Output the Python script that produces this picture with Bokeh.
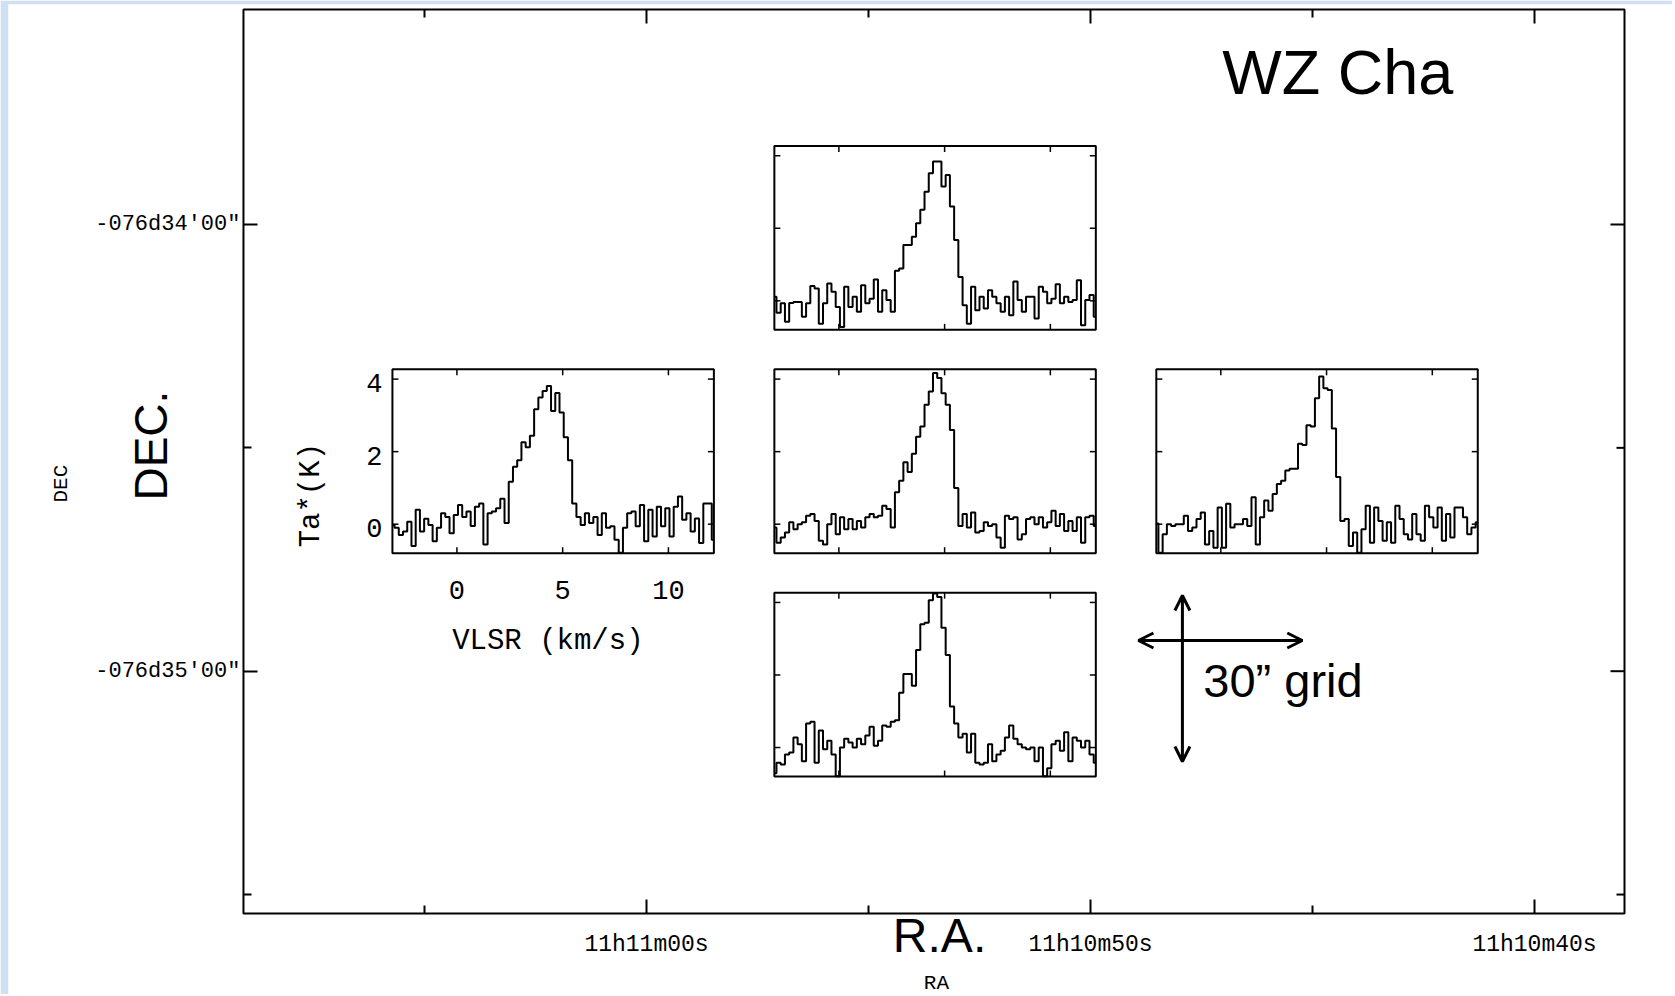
import numpy as np
from bokeh.plotting import figure
from bokeh.models import Range1d, LinearAxis, FixedTicker, Label, Arrow, OpenHead
from bokeh.embed import file_html
from bokeh.resources import INLINE
from bokeh.core.properties import value

# ---------------- data ----------------
# main map axes: RA seconds past 11h10m, Dec arcsec offset from -76d34'00"
RA_MAJOR = [60, 50, 40]
RA_LABELS = ["11h11m00s", "11h10m50s", "11h10m40s"]
RA_MINOR = [65, 55, 45]
DEC_MAJOR = [0, -60]
DEC_LABELS = ["-076d34'00\"", "-076d35'00\""]
DEC_MINOR = [-30, -90]

# map centre of the 5-point cross and the pointing offsets (arcsec, east / north)
RA_CENTER = 53.50      # s  (11h10m53.5s)
DEC_CENTER = -31.8     # arcsec from -76d34'00"
ARCSEC_PER_RA_SEC = 3.4875
POS_NAMES = ["north", "east", "center", "west", "south"]
OFF_EAST = [0, 30, 0, -30, 0]
OFF_NORTH = [30, 0, 0, 0, -30]

# spectra: channel grid (km/s) and Ta* (K)
V_START, V_STEP, N_CHAN = -3.05, 0.2, 77
VELOCITY = [round(V_START + V_STEP * i, 2) for i in range(N_CHAN)]
VEL_TICKS = [0, 5, 10]
TEMP_TICKS = [0, 2, 4]

SPEC_NORTH = [0.11, -0.33, -0.07, -0.58, -0.06, -0.03, -0.03, -0.44, -0.07, 0.41,
              0.34, -0.63, -0.07, 0.48, 0.25, -0.17, -0.72, 0.39, -0.17, 0.11,
              -0.30, 0.43, -0.07, 0.06, 0.59, -0.30, 0.29, 0.02, -0.30, 0.83,
              0.89, 1.54, 1.54, 1.77, 2.14, 2.51, 3.01, 3.52, 3.84, 3.84,
              3.15, 3.47, 2.60, 1.68, 0.66, -0.12, -0.63, 0.39, -0.26, 0.11,
              -0.21, 0.29, 0.11, -0.07, -0.30, 0.11, -0.40, 0.53, 0.02, -0.30,
              0.11, 0.11, -0.49, 0.39, 0.25, -0.07, 0.06, 0.46, -0.07, 0.11,
              -0.03, 0.02, 0.57, -0.67, 0.02, 0.16, -0.44]
SPEC_EAST = [-0.02, -0.10, -0.30, -0.20, 0.07, -0.60, 0.40, -0.20, 0.15, -0.02,
             -0.47, -0.10, 0.30, 0.20, -0.25, 0.25, 0.53, 0.20, 0.35, -0.05,
             0.48, 0.57, -0.56, 0.30, 0.35, 0.44, 0.70, 0.03, 1.17, 1.58,
             1.76, 2.26, 2.12, 2.44, 3.17, 3.49, 3.67, 3.81, 3.12, 3.62,
             3.08, 2.40, 1.76, 0.57, 0.20, -0.02, 0.30, 0.03, 0.20, -0.30,
             0.30, -0.10, -0.06, -0.43, -0.79, -0.10, 0.30, 0.35, -0.06, 0.53,
             -0.47, 0.40, -0.34, 0.48, -0.06, 0.44, -0.34, 0.48, 0.76, 0.12,
             0.30, -0.20, 0.16, -0.52, 0.57, 0.57, -0.43]
SPEC_CENTER = [-0.09, -0.51, -0.37, -0.23, 0.05, -0.14, 0.00, 0.05, 0.23, 0.28,
               0.09, -0.46, -0.56, 0.00, 0.28, -0.28, 0.19, -0.14, 0.14, -0.14,
               0.09, -0.09, 0.19, 0.28, 0.19, 0.23, 0.51, 0.42, -0.09, 0.88,
               1.20, 1.71, 1.44, 1.94, 2.41, 2.69, 3.29, 3.66, 4.17, 4.03,
               3.61, 3.29, 2.60, 1.00, -0.05, 0.28, -0.09, 0.32, -0.23, -0.19,
               0.05, -0.05, 0.00, -0.37, -0.65, 0.23, 0.14, 0.19, -0.42, -0.28,
               0.14, 0.19, 0.00, 0.19, -0.09, 0.05, 0.37, -0.05, 0.28, -0.19,
               0.09, -0.19, 0.19, -0.51, 0.19, 0.23, -0.05]
SPEC_WEST = [0.02, -0.79, -0.28, 0.00, -0.05, 0.00, 0.00, 0.23, -0.19, -0.09,
             0.14, 0.32, -0.56, -0.19, -0.65, 0.46, -0.65, 0.56, -0.09, 0.00,
             0.00, 0.14, -0.05, 0.74, -0.56, 0.19, 0.65, 0.37, 0.83, 1.11,
             1.20, 1.48, 1.53, 1.53, 2.22, 2.18, 2.73, 2.69, 3.47, 4.07,
             3.75, 3.70, 2.64, 1.30, 0.09, 0.14, -0.60, -0.23, -0.79, -0.14,
             0.51, -0.51, 0.46, 0.09, -0.46, 0.05, -0.51, 0.51, 0.14, -0.28,
             -0.42, 0.28, -0.28, -0.46, 0.51, 0.19, -0.09, 0.46, -0.46, 0.28,
             -0.37, 0.46, 0.46, 0.19, -0.28, -0.09, 0.05]
SPEC_SOUTH = [-0.71, -0.42, -0.47, -0.19, -0.14, 0.28, 0.09, -0.38, 0.66, 0.71,
              -0.42, 0.47, -0.05, 0.19, -0.19, -0.79, 0.00, 0.24, 0.14, 0.00,
              0.24, 0.09, 0.33, 0.57, 0.05, 0.19, 0.61, 0.57, 0.71, 0.75,
              1.51, 2.03, 2.03, 1.70, 2.69, 3.40, 3.44, 4.06, 4.25, 4.15,
              3.30, 2.55, 1.13, 0.66, 0.28, 0.38, -0.14, 0.38, -0.42, -0.47,
              -0.42, 0.09, -0.38, -0.19, -0.09, 0.28, 0.61, 0.24, 0.09, 0.00,
              -0.05, 0.00, -0.38, 0.00, -0.79, -0.57, 0.09, 0.19, -0.09, 0.42,
              -0.38, 0.28, 0.19, 0.00, 0.19, -0.19, -0.42]
SPECTRA = [SPEC_NORTH, SPEC_EAST, SPEC_CENTER, SPEC_WEST, SPEC_SOUTH]
LABELED = [False, True, False, False, False]

# ---------------- layout / style ----------------
RA_LEFT, RA_RIGHT = 69.077, 37.973       # extent of the drawn map box
DEC_TOP, DEC_BOT = 28.878, -92.545
V_MIN, V_MAX = V_START, VELOCITY[-1]
T_MIN, T_MAX = -0.80, 4.27
INSET_W = 7.24     # RA seconds
INSET_H = 24.7     # arcsec
MONO = "Liberation Mono"
SANS = "Liberation Sans"

p = figure(frame_width=1664, frame_height=990,
           min_border_left=8, min_border_right=0, min_border_top=4, min_border_bottom=0,
           x_range=Range1d(74.369, 36.892), y_range=Range1d(-103.425, 29.550),
           x_axis_type=None, y_axis_type=None,
           output_backend="svg", toolbar_location=None,
           background_fill_color="white", border_fill_color="#cfe0f4")
p.outline_line_color = None

# map box
p.quad(left=[RA_LEFT], right=[RA_RIGHT], bottom=[DEC_BOT], top=[DEC_TOP],
       fill_color=None, line_color="black", line_width=2)


def style_axis(ax):
    ax.axis_line_color = None
    ax.major_tick_in = 14
    ax.major_tick_out = 0
    ax.minor_tick_in = 8
    ax.minor_tick_out = 0
    ax.major_tick_line_width = 2
    ax.minor_tick_line_width = 2
    ax.major_tick_line_color = "black"
    ax.minor_tick_line_color = "black"
    ax.major_label_text_font = MONO
    ax.major_label_text_color = "black"


xb = LinearAxis(ticker=FixedTicker(ticks=RA_MAJOR, minor_ticks=RA_MINOR),
                major_label_overrides=dict(zip(RA_MAJOR, RA_LABELS)),
                fixed_location=DEC_BOT, bounds=(RA_RIGHT, RA_LEFT))
style_axis(xb)
xb.major_label_text_font_size = "23px"
xb.major_label_standoff = 19
p.add_layout(xb, "below")

yl = LinearAxis(ticker=FixedTicker(ticks=DEC_MAJOR, minor_ticks=DEC_MINOR),
                major_label_overrides=dict(zip(DEC_MAJOR, DEC_LABELS)),
                fixed_location=RA_LEFT, bounds=(DEC_BOT, DEC_TOP))
style_axis(yl)
yl.major_label_text_font_size = "22px"
yl.major_label_standoff = 3
p.add_layout(yl, "left")

# inward ticks on the top and right edges of the map box
p.ray(x=RA_MAJOR, y=[DEC_TOP] * len(RA_MAJOR), length=14, length_units="screen",
      angle=-np.pi / 2, line_color="black", line_width=2)
p.ray(x=RA_MINOR, y=[DEC_TOP] * len(RA_MINOR), length=8, length_units="screen",
      angle=-np.pi / 2, line_color="black", line_width=2)
p.ray(x=[RA_RIGHT] * len(DEC_MAJOR), y=DEC_MAJOR, length=14, length_units="screen",
      angle=np.pi, line_color="black", line_width=2)
p.ray(x=[RA_RIGHT] * len(DEC_MINOR), y=DEC_MINOR, length=8, length_units="screen",
      angle=np.pi, line_color="black", line_width=2)

# ---------------- insets ----------------
for de, dn, spec, lab in zip(OFF_EAST, OFF_NORTH, SPECTRA, LABELED):
    ra_c = RA_CENTER + de / ARCSEC_PER_RA_SEC
    dec_c = DEC_CENTER + dn
    sub = p.subplot(x_source=Range1d(V_MIN, V_MAX), y_source=Range1d(T_MIN, T_MAX),
                    x_target=Range1d(ra_c + INSET_W / 2, ra_c - INSET_W / 2),
                    y_target=Range1d(dec_c - INSET_H / 2, dec_c + INSET_H / 2))
    sub.quad(left=[V_MIN], right=[V_MAX], bottom=[T_MIN], top=[T_MAX],
             fill_color="white", line_color="black", line_width=2)
    sub.step(x=VELOCITY, y=spec, mode="center", line_color="black", line_width=2)
    n = len(VEL_TICKS)
    m = len(TEMP_TICKS)
    sub.ray(x=VEL_TICKS, y=[T_MIN] * n, length=6, length_units="screen",
            angle=np.pi / 2, line_color="black", line_width=1.5)
    sub.ray(x=VEL_TICKS, y=[T_MAX] * n, length=6, length_units="screen",
            angle=-np.pi / 2, line_color="black", line_width=1.5)
    sub.ray(x=[V_MIN] * m, y=TEMP_TICKS, length=6, length_units="screen",
            angle=0, line_color="black", line_width=1.5)
    sub.ray(x=[V_MAX] * m, y=TEMP_TICKS, length=6, length_units="screen",
            angle=np.pi, line_color="black", line_width=1.5)
    if lab:
        sub.text(x=VEL_TICKS, y=[T_MIN] * n, text=[str(t) for t in VEL_TICKS],
                 text_align="center", text_baseline="middle", y_offset=37,
                 text_font=value(MONO), text_font_size="27px", text_color="black")
        sub.text(x=[V_MIN] * m, y=TEMP_TICKS, text=[str(t) for t in TEMP_TICKS],
                 text_align="right", text_baseline="middle", x_offset=-10, y_offset=4,
                 text_font=value(MONO), text_font_size="27px", text_color="black")
        sub.text(x=[4.3], y=[T_MIN], text=["VLSR (km/s)"],
                 text_align="center", text_baseline="middle", y_offset=88,
                 text_font=value(MONO), text_font_size="29px", text_color="black")
        sub.text(x=[V_MIN], y=[0.8], text=["Ta*(K)"], angle=np.pi / 2,
                 text_align="center", text_baseline="middle", x_offset=-81,
                 text_font=value(MONO), text_font_size="29px", text_color="black")

# ---------------- annotations ----------------
p.add_layout(Label(x=73.18, y=-34.8, text="DEC", angle=np.pi / 2,
                   text_align="center", text_baseline="middle",
                   text_font=MONO, text_font_size="21px", text_color="black"))
p.add_layout(Label(x=53.47, y=-102.0, text="RA",
                   text_align="center", text_baseline="middle",
                   text_font=MONO, text_font_size="21px", text_color="black"))
p.add_layout(Label(x=71.16, y=-29.7, text="DEC.", angle=np.pi / 2,
                   text_align="center", text_baseline="middle",
                   text_font=SANS, text_font_size="46px", text_color="black"))
p.add_layout(Label(x=53.40, y=-95.5, text="R.A.",
                   text_align="center", text_baseline="alphabetic",
                   text_font=SANS, text_font_size="48px", text_color="black"))
p.add_layout(Label(x=47.03, y=20.55, text="WZ Cha",
                   text_align="left", text_baseline="alphabetic",
                   text_font=SANS, text_font_size="63px", text_color="black"))
p.add_layout(Label(x=47.46, y=-61.2, text="30\u201d grid",
                   text_align="left", text_baseline="alphabetic",
                   text_font=SANS, text_font_size="47px", text_color="black"))

p.add_layout(Arrow(start=OpenHead(size=15, line_width=3, line_color="black"),
                   end=OpenHead(size=15, line_width=3, line_color="black"),
                   x_start=48.92, y_start=-55.88, x_end=45.23, y_end=-55.88,
                   line_width=3, line_color="black"))
p.add_layout(Arrow(start=OpenHead(size=15, line_width=3, line_color="black"),
                   end=OpenHead(size=15, line_width=3, line_color="black"),
                   x_start=47.93, y_start=-49.83, x_end=47.93, y_end=-72.13,
                   line_width=3, line_color="black"))

open("out.html", "w").write(file_html(p, INLINE))
